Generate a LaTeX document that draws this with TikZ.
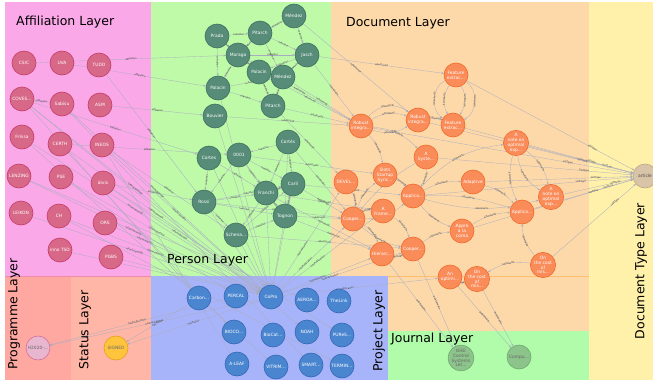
\documentclass[tikz,border=0pt]{standalone}
\usepackage{fontspec}
\setmainfont{DejaVu Sans}
\usetikzlibrary{arrows.meta}

\pgfdeclarelayer{bg}
\pgfdeclarelayer{links}
\pgfsetlayers{bg,links,main}

% layer backgrounds
\definecolor{affilbg}{RGB}{250,168,232}
\definecolor{personbg}{RGB}{190,250,168}
\definecolor{docbg}{RGB}{253,217,170}
\definecolor{typebg}{RGB}{255,240,170}
\definecolor{projbg}{RGB}{168,180,250}
\definecolor{progbg}{RGB}{255,168,162}
\definecolor{statbg}{RGB}{255,182,166}
\definecolor{jourbg}{RGB}{176,252,170}
% node colours
\definecolor{affilfill}{RGB}{216,104,136}
\definecolor{affildraw}{RGB}{198,58,102}
\definecolor{personfill}{RGB}{86,140,120}
\definecolor{persondraw}{RGB}{62,112,94}
\definecolor{docfill}{RGB}{250,140,90}
\definecolor{docdraw}{RGB}{240,106,42}
\definecolor{typefill}{RGB}{216,196,166}
\definecolor{typedraw}{RGB}{190,166,132}
\definecolor{projfill}{RGB}{74,134,208}
\definecolor{projdraw}{RGB}{52,102,182}
\definecolor{progfill}{RGB}{232,182,206}
\definecolor{progdraw}{RGB}{214,110,152}
\definecolor{statfill}{RGB}{255,196,62}
\definecolor{statdraw}{RGB}{230,160,30}
\definecolor{jourfill}{RGB}{140,196,140}
\definecolor{jourdraw}{RGB}{110,170,110}
\definecolor{linkgray}{RGB}{168,172,192}

\tikzset{
	ent/.style={circle, minimum size=24pt, inner sep=0pt, line width=0.6pt, align=center,
		font=\fontsize{4.4}{4.9}\selectfont, text=white},
	affil/.style={ent, draw=affildraw, fill=affilfill},
	person/.style={ent, draw=persondraw, fill=personfill},
	doc/.style={ent, draw=docdraw, fill=docfill},
	doctype/.style={ent, draw=typedraw, fill=typefill, text=black!70},
	proj/.style={ent, draw=projdraw, fill=projfill},
	prog/.style={ent, draw=progdraw, fill=progfill, text=black!60},
	stat/.style={ent, draw=statdraw, fill=statfill, text=black!60},
	jour/.style={ent, draw=jourdraw, fill=jourfill, text=black!60},
	layername/.style={font=\fontsize{12.5}{15}\selectfont, text=black, inner sep=0pt},
	rel/.style={draw=linkgray, line width=0.3pt, -{Stealth[length=2.4pt,width=2pt]}},
	lbl/.style={font=\fontsize{2.4}{2.6}\selectfont, text=black!75, sloped, inner sep=0.3pt}
}

\begin{document}
\begin{tikzpicture}[x=1pt, y=-1pt]
	\useasboundingbox (0,0) rectangle (653,380);
	\begin{pgfonlayer}{bg}
	  \fill[white] (0,0) rectangle (653,380);
	  \fill[affilbg] (5,2) rectangle (151,276);
	  \fill[personbg] (151,2) rectangle (331,276);
	  \fill[docbg] (331,2) rectangle (589,331);
	  \fill[jourbg] (388,331) rectangle (589,380);
	  \fill[typebg] (589,2) rectangle (653,380);
	  \fill[projbg] (151,276) rectangle (388,380);
	  \fill[progbg] (5,276) rectangle (71,380);
	  \fill[statbg] (71,276) rectangle (151,380);
	  \draw[color={rgb,255:red,255;green,190;blue,110}, line width=0.6pt] (388,276) -- (589,276);
	  \draw[color={rgb,255:red,240;green,140;blue,170}, line width=0.5pt] (5,276) -- (151,276);
	\end{pgfonlayer}

	\node[layername, anchor=west] at (16,22) {Affiliation Layer};
	\node[layername, anchor=west] at (167,260) {Person Layer};
	\node[layername, anchor=west] at (346,23) {Document Layer};
	\node[layername, anchor=west] at (391,339) {Journal Layer};
	\node[layername, rotate=90] at (641,271) {Document Type Layer};
	\node[layername, rotate=90] at (14,314) {Programme Layer};
	\node[layername, rotate=90] at (85,330) {Status Layer};
	\node[layername, rotate=90] at (379,331) {Project Layer};

	% affiliations
	\node[affil] (csic) at (24,63) {CSIC};
	\node[affil] (uva) at (62,63) {UVA};
	\node[affil] (tudo) at (99,65) {TUDO};
	\node[affil] (coves) at (22,99) {COVES...};
	\node[affil] (sabisu) at (62,104) {Sabisu};
	\node[affil] (asm) at (100,105) {ASM};
	\node[affil] (frinsa) at (22,137) {Frinsa};
	\node[affil] (certh) at (60,144) {CERTH};
	\node[affil] (ineos) at (102,145) {INEOS};
	\node[affil] (lenzing) at (19,176) {LENZING};
	\node[affil] (pse) at (61,177) {PSE};
	\node[affil] (divis) at (103,183) {divis};
	\node[affil] (leikon) at (21,213) {LEIKON};
	\node[affil] (ch) at (59,216) {CH};
	\node[affil] (ors) at (105,223) {ORS};
	\node[affil] (innotsd) at (60,250) {inno TSD};
	\node[affil] (pgbs) at (111,257) {PGBS};

	% persons
	\node[person] (mendezA) at (294,16) {Méndez};
	\node[person] (prada) at (217,36) {Prada};
	\node[person] (pitarchA) at (260,33) {Pitarch};
	\node[person] (moraga) at (238,55) {Moraga};
	\node[person] (jasch) at (307,55) {Jasch};
	\node[person] (palacinA) at (259,72) {Palacin};
	\node[person] (mendezB) at (283,77) {Méndez};
	\node[person] (palacinB) at (218,88) {Palacin};
	\node[person] (pitarchB) at (273,106) {Pitarch};
	\node[person] (bouvier) at (215,116) {Bouvier};
	\node[person] (cortesA) at (288,142) {Cortés};
	\node[person] (cortes) at (209,158) {Cortes};
	\node[person] (p0001) at (239,155) {0001};
	\node[person] (carli) at (293,184) {Carli};
	\node[person] (franchi) at (266,193) {Franchi};
	\node[person] (rossi) at (204,202) {Rossi};
	\node[person] (tognon) at (285,216) {Tognon};
	\node[person] (schena) at (236,235) {Schena...};

	% documents
	\node[doc] (featA) at (456,75) {Feature\\extrac...};
	\node[doc] (robA) at (361,126) {Robust\\integra...};
	\node[doc] (robB) at (418,120) {Robust\\integra...};
	\node[doc] (featB) at (453,125) {Feature\\extrac...};
	\node[doc] (noteA) at (516,143) {A\\note on\\optimal\\exp...};
	\node[doc] (syste) at (426,157) {A\\Syste...};
	\node[doc] (slots) at (385,175) {Slots\\Startup\\Sync...};
	\node[doc] (devel) at (346,182) {DEVEL...};
	\node[doc] (adapt) at (473,182) {Adaptive};
	\node[doc] (applA) at (413,196) {Applica...};
	\node[doc] (noteB) at (551,197) {A\\note on\\optimal\\exp...};
	\node[doc] (frame) at (383,211) {A\\Frame...};
	\node[doc] (applB) at (522,212) {Applica...};
	\node[doc] (coopA) at (353,219) {Cooper...};
	\node[doc] (appro) at (462,231) {Appro\\a la\\coma};
	\node[doc] (coopB) at (413,249) {Cooper...};
	\node[doc] (hier) at (382,254) {Hierarc...};
	\node[doc] (costB) at (543,265) {On\\the cost\\of\\mis...};
	\node[doc] (optimi) at (450,277) {An\\optimi...};
	\node[doc] (costA) at (477,279) {On\\the cost\\of\\mis...};

	\node[doctype] (article) at (645,176) {article};

	% projects
	\node[proj] (carbon) at (199,298) {Carbon...};
	\node[proj] (percal) at (236,296) {PERCAL};
	\node[proj] (copro) at (271,297) {CoPro};
	\node[proj] (aeroa) at (307,300) {AEROA...};
	\node[proj] (thelink) at (339,301) {TheLink};
	\node[proj] (bioco) at (234,332) {BIOCO...};
	\node[proj] (biocat) at (273,335) {BioCat...};
	\node[proj] (noah) at (307,332) {NOAH};
	\node[proj] (pures) at (342,335) {PUReS...};
	\node[proj] (aleaf) at (237,364) {A-LEAF};
	\node[proj] (vitrim) at (276,367) {VITRIM...};
	\node[proj] (smart) at (311,365) {SMART...};
	\node[proj] (termin) at (342,366) {TERMIN...};

	\node[prog] (h2020) at (38,348) {H2020-...};
	\node[stat] (signed) at (116,348) {SIGNED};

	\node[jour] (ieee) at (461,358) {IEEE\\Control\\Systems\\Let...};
	\node[jour] (compu) at (519,357) {Compu...};

	\begin{pgfonlayer}{links}
	  % affiliations
	  \foreach \a/\b in {sabisu/coves, asm/bouvier, csic/moraga, uva/palacinB, tudo/rossi,
	      coves/cortes, divis/rossi, certh/p0001, ineos/schena}
	    \draw[rel] (\a) -- node[lbl]{affiliation} (\b);
	  \foreach \a/\p in {coves/0.45, sabisu/0.45, frinsa/0.45, certh/0.45, ineos/0.45, lenzing/0.45,
	      pse/0.45, divis/0.45, leikon/0.45, ch/0.45, ors/0.2}
	    \draw[rel] (\a) -- node[lbl, pos=\p]{isParticipantOf} (copro);
	  \foreach \a in {innotsd, pgbs}
	    \draw[rel] (\a) -- (copro);
	  \foreach \a/\b in {coves/carbon, coves/noah, certh/bioco, pse/percal, ineos/aleaf,
	      frinsa/vitrim, sabisu/smart, lenzing/aeroa, divis/pures, ch/termin}
	    \draw[rel] (\a) -- (\b);
	  % co-authors
	  \foreach \a/\b in {mendezA/pitarchA, mendezA/jasch, prada/pitarchA, prada/moraga, prada/palacinB,
	      pitarchA/moraga, pitarchA/jasch, moraga/palacinA, moraga/mendezB, moraga/palacinB,
	      moraga/jasch, jasch/mendezB, palacinA/mendezB, palacinA/pitarchB, mendezB/pitarchB,
	      palacinB/pitarchB, palacinB/mendezB, jasch/palacinA, pitarchA/mendezB,
	      cortesA/p0001, cortesA/carli, cortesA/franchi, cortesA/tognon, p0001/franchi,
	      p0001/rossi, p0001/carli, cortes/rossi, cortes/franchi, rossi/franchi, rossi/schena,
	      rossi/tognon, rossi/carli, carli/franchi, carli/tognon, franchi/tognon,
	      franchi/schena, schena/tognon, schena/carli, p0001/tognon}
	    \draw[rel] (\a) -- node[lbl]{coAuthor} (\b);
	  % authorship
	  \foreach \a/\b in {jasch/robA, mendezB/robA, pitarchB/robA, palacinA/robA, moraga/robA,
	      mendezA/robB, jasch/featA, pitarchB/devel, cortesA/coopA, carli/coopA, franchi/frame,
	      tognon/coopA, tognon/hier, schena/coopB, rossi/coopA, p0001/slots, carli/applA,
	      bouvier/robA, franchi/hier}
	    \draw[rel] (\a) -- node[lbl]{isAuthorOf} (\b);
	  \foreach \a in {rossi, schena, franchi, tognon, bouvier, palacinB, cortes, carli}
	    \draw[rel] (\a) -- (copro);
	  % similar documents
	  \foreach \a/\b/\d in {robA/robB/25, robA/robB/-25, robA/robB/45, robA/syste/20, robB/featB/15,
	      featA/featB/30, featA/featB/-30, featA/featB/60, featA/featB/-60, robA/slots/15,
	      syste/applA/20, applA/adapt/15, applA/noteA/20, applA/noteB/-15, applA/applB/10,
	      coopA/frame/20, coopA/hier/20, coopA/coopB/-15, frame/coopB/20, hier/coopB/-20,
	      coopB/appro/15, appro/applB/15, noteA/noteB/20, noteA/applB/-20, costB/applB/20,
	      costB/costA/-20, costA/optimi/20, slots/applA/15, devel/coopA/20, coopA/applA/-20,
	      coopA/slots/15, syste/coopA/-10, adapt/applB/15, noteA/noteB/-25, applA/appro/-15}
	    \draw[rel] (\a) to[bend left=\d] node[lbl]{isSimilarTo} (\b);
	  % document types
	  \foreach \a in {noteA, noteB, applB, costB, adapt, featA, featB, robB, applA, syste, appro, robA}
	    \draw[rel] (\a) -- node[lbl, pos=0.75]{isOfType} (article);
	  % publications and journals
	  \foreach \a in {coopA, hier, frame, devel, optimi, coopB}
	    \draw[rel] (copro) -- node[lbl, pos=0.4]{hasPublication} (\a);
	  \foreach \a/\b in {hier/ieee, coopB/ieee, optimi/compu, costA/compu}
	    \draw[rel] (\a) -- node[lbl]{publishedIn} (\b);
	  % programme and status
	  \foreach \a in {copro, percal}
	    \draw[rel] (\a) -- node[lbl]{hasProgramme} (h2020);
	  \foreach \a in {copro, carbon}
	    \draw[rel] (\a) -- node[lbl]{hasStatus} (signed);
	\end{pgfonlayer}
\end{tikzpicture}
\end{document}
